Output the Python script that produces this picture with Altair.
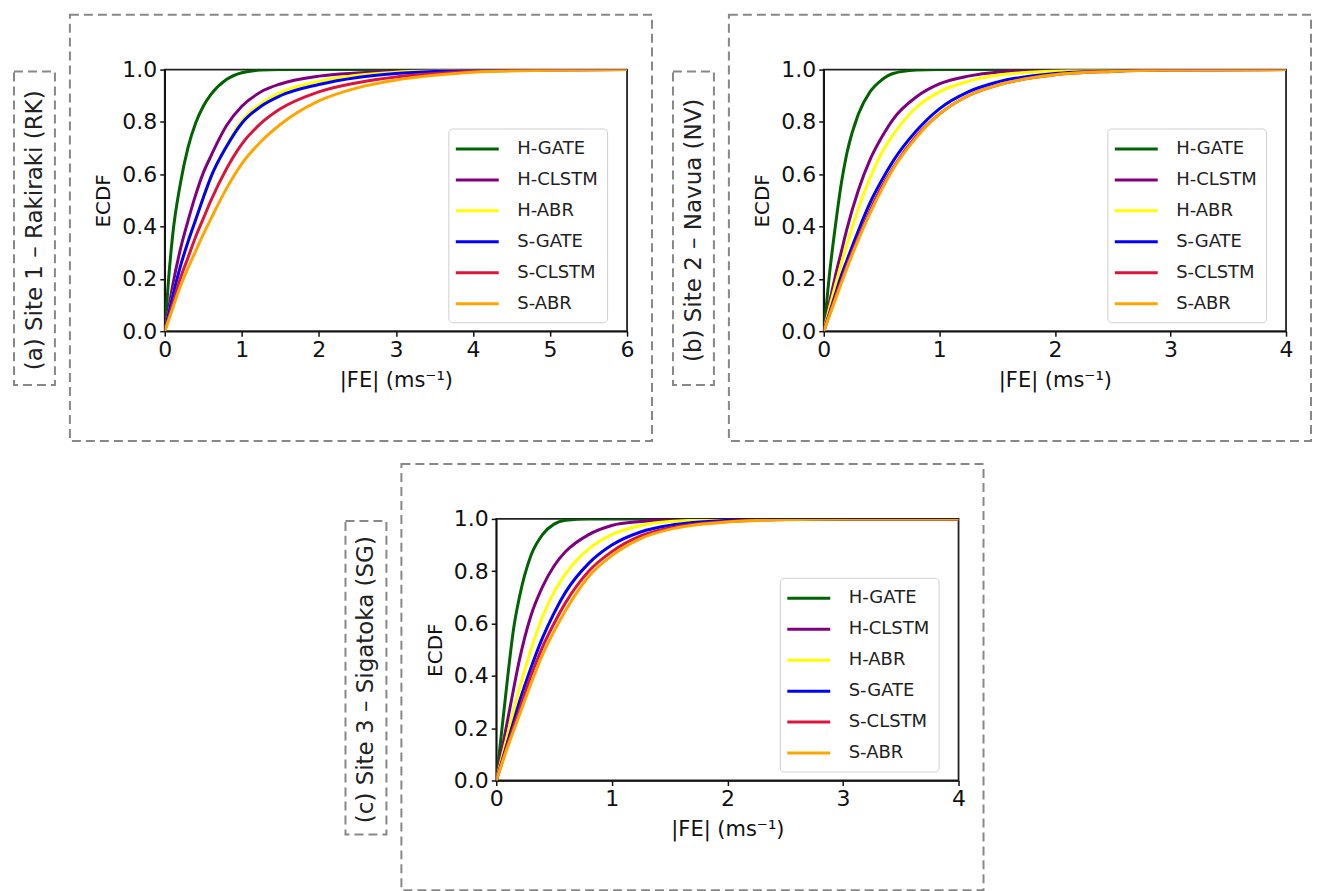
import altair as alt
import pandas as pd

FONT = "DejaVu Sans"

models = ["H-GATE", "H-CLSTM", "H-ABR", "S-GATE", "S-CLSTM", "S-ABR"]
colors = ["#006400", "#800080", "#ffff00", "#0000ff", "#dc143c", "#ffa500"]

# ---- Site 1 (Rakiraki) ----
site1_x = [0, 0.05, 0.1, 0.2, 0.3, 0.4, 0.5, 0.6, 0.8, 1.0, 1.25, 1.5, 2.0, 2.5, 3.0, 3.5, 4.0, 5.0, 6.0]
site1_h_gate = [0, 0.2, 0.36, 0.56, 0.7, 0.795, 0.86, 0.905, 0.962, 0.988, 0.998, 1, 1, 1, 1, 1, 1, 1, 1]
site1_h_clstm = [0, 0.085, 0.17, 0.31, 0.42, 0.52, 0.605, 0.67, 0.785, 0.86, 0.915, 0.945, 0.975, 0.987, 0.994, 0.997, 0.999, 1, 1]
site1_h_abr = [0, 0.065, 0.13, 0.245, 0.34, 0.425, 0.51, 0.59, 0.71, 0.805, 0.87, 0.912, 0.955, 0.978, 0.99, 0.995, 0.998, 1, 1]
site1_s_gate = [0, 0.065, 0.13, 0.245, 0.34, 0.425, 0.51, 0.59, 0.705, 0.795, 0.86, 0.9, 0.943, 0.97, 0.985, 0.993, 0.997, 0.999, 1]
site1_s_clstm = [0, 0.05, 0.1, 0.2, 0.28, 0.36, 0.43, 0.5, 0.62, 0.715, 0.795, 0.85, 0.915, 0.95, 0.972, 0.985, 0.993, 0.998, 1]
site1_s_abr = [0, 0.042, 0.085, 0.17, 0.24, 0.305, 0.37, 0.43, 0.545, 0.64, 0.725, 0.79, 0.88, 0.93, 0.96, 0.978, 0.99, 0.997, 1]

# ---- Site 2 (Navua) ----
site2_x = [0, 0.05, 0.1, 0.15, 0.2, 0.3, 0.4, 0.5, 0.6, 0.8, 1.0, 1.25, 1.5, 2.0, 2.5, 3.0, 4.0]
site2_h_gate = [0, 0.22, 0.4, 0.56, 0.68, 0.83, 0.915, 0.96, 0.985, 0.998, 1, 1, 1, 1, 1, 1, 1]
site2_h_clstm = [0, 0.11, 0.21, 0.3, 0.39, 0.54, 0.655, 0.74, 0.81, 0.895, 0.945, 0.975, 0.99, 0.998, 1, 1, 1]
site2_h_abr = [0, 0.09, 0.175, 0.255, 0.33, 0.47, 0.585, 0.68, 0.75, 0.855, 0.915, 0.955, 0.978, 0.995, 0.999, 1, 1]
site2_s_gate = [0, 0.07, 0.14, 0.21, 0.27, 0.385, 0.49, 0.575, 0.65, 0.765, 0.85, 0.915, 0.952, 0.985, 0.995, 0.999, 1]
site2_s_clstm = [0, 0.065, 0.13, 0.19, 0.25, 0.36, 0.46, 0.55, 0.625, 0.745, 0.83, 0.9, 0.94, 0.98, 0.993, 0.998, 1]
site2_s_abr = [0, 0.06, 0.12, 0.18, 0.24, 0.35, 0.45, 0.54, 0.62, 0.74, 0.83, 0.9, 0.94, 0.98, 0.993, 0.998, 1]

# ---- Site 3 (Sigatoka) ----
site3_x = [0, 0.05, 0.1, 0.15, 0.2, 0.3, 0.4, 0.5, 0.6, 0.8, 1.0, 1.25, 1.5, 2.0, 2.5, 3.0, 4.0]
site3_h_gate = [0, 0.2, 0.4, 0.58, 0.7, 0.86, 0.94, 0.98, 0.995, 1, 1, 1, 1, 1, 1, 1, 1]
site3_h_clstm = [0, 0.12, 0.235, 0.35, 0.46, 0.63, 0.74, 0.82, 0.875, 0.94, 0.975, 0.99, 0.997, 1, 1, 1, 1]
site3_h_abr = [0, 0.09, 0.18, 0.265, 0.35, 0.5, 0.625, 0.72, 0.79, 0.885, 0.94, 0.975, 0.99, 0.998, 1, 1, 1]
site3_s_gate = [0, 0.075, 0.15, 0.225, 0.3, 0.43, 0.545, 0.64, 0.72, 0.83, 0.9, 0.95, 0.975, 0.994, 0.999, 1, 1]
site3_s_clstm = [0, 0.07, 0.14, 0.205, 0.27, 0.4, 0.51, 0.6, 0.68, 0.8, 0.875, 0.935, 0.965, 0.99, 0.998, 1, 1]
site3_s_abr = [0, 0.065, 0.13, 0.19, 0.25, 0.37, 0.48, 0.57, 0.65, 0.78, 0.86, 0.925, 0.96, 0.988, 0.997, 1, 1]

x_ticks_site1 = [0, 1, 2, 3, 4, 5, 6]
x_ticks_site23 = [0, 1, 2, 3, 4]
y_ticks = [0.0, 0.2, 0.4, 0.6, 0.8, 1.0]

side_labels = ["(a) Site 1 \u2013 Rakiraki (RK)", "(b) Site 2 \u2013 Navua (NV)", "(c) Site 3 \u2013 Sigatoka (SG)"]
x_title = "|FE| (ms\u207b\u00b9)"

W, H = 463, 262


def build_df(xs, series):
    rows = []
    for name, ys in zip(models, series):
        for xv, yv in zip(xs, ys):
            rows.append({"model": name, "fe": xv, "ecdf": yv})
    return pd.DataFrame(rows)


def panel(xs, series, xticks, label):
    df = build_df(xs, series)
    one = pd.DataFrame({"label": [label]})
    lines = alt.Chart(df).mark_line(strokeWidth=3, interpolate="monotone", clip=True).encode(
        x=alt.X("fe:Q",
                scale=alt.Scale(domain=[xticks[0], xticks[-1]], nice=False),
                axis=alt.Axis(values=xticks, format="d", title=x_title, labelFlush=False)),
        y=alt.Y("ecdf:Q",
                scale=alt.Scale(domain=[0, 1], nice=False),
                axis=alt.Axis(values=y_ticks, format=".1f", title="ECDF", labelFlush=False)),
        color=alt.Color("model:N",
                        scale=alt.Scale(domain=models, range=colors),
                        legend=alt.Legend(title=None, orient="none", legendX=284, legendY=59,
                                          symbolType="M-1.3,0H3.0", symbolSize=400,
                                          symbolStrokeWidth=3, labelFontSize=18,
                                          labelFont=FONT, labelColor="#222",
                                          labelOffset=37, padding=9, rowPadding=10,
                                          strokeColor="#d0d0d0", fillColor="#ffffff",
                                          cornerRadius=4)),
    )
    outer = alt.Chart(one).mark_rect(filled=False, color="#888888", strokeWidth=2,
                                     strokeDash=[9, 5]).encode(
        x=alt.value(-95), x2=alt.value(W + 25), y=alt.value(-55), y2=alt.value(H + 110))
    sidebox = alt.Chart(one).mark_rect(filled=False, color="#888888", strokeWidth=2,
                                       strokeDash=[9, 5]).encode(
        x=alt.value(-151), x2=alt.value(-110), y=alt.value(2), y2=alt.value(316))
    sidetext = alt.Chart(one).mark_text(angle=270, font=FONT, fontSize=23, color="#222",
                                        align="center", baseline="middle").encode(
        x=alt.value(-130), y=alt.value(161), text="label:N")
    return alt.layer(outer, sidebox, sidetext, lines).properties(
        width=W, height=H,
        view=alt.ViewBackground(stroke="#222222", strokeWidth=1.8, strokeOpacity=1))


pa = panel(site1_x, [site1_h_gate, site1_h_clstm, site1_h_abr, site1_s_gate, site1_s_clstm, site1_s_abr],
           x_ticks_site1, side_labels[0])
pb = panel(site2_x, [site2_h_gate, site2_h_clstm, site2_h_abr, site2_s_gate, site2_s_clstm, site2_s_abr],
           x_ticks_site23, side_labels[1])
pc = panel(site3_x, [site3_h_gate, site3_h_clstm, site3_h_abr, site3_s_gate, site3_s_clstm, site3_s_abr],
           x_ticks_site23, side_labels[2])

spacer = alt.Chart(pd.DataFrame({"v": [0]})).mark_point(opacity=0).encode(
    x=alt.value(0), y=alt.value(0)).properties(
    width=12, height=H, view=alt.ViewBackground(strokeOpacity=0))

row1 = alt.hconcat(pa, pb, spacing=197, bounds="flush").resolve_scale(color="independent")
row2 = alt.hconcat(spacer, pc, spacing=320, bounds="flush").resolve_scale(color="independent")

chart = alt.vconcat(row1, row2, spacing=450, bounds="flush").resolve_scale(
    color="independent"
).properties(
    padding={"left": 4, "top": 4, "right": 0, "bottom": 0}
).configure(
    font=FONT
).configure_view(
    strokeOpacity=0
).configure_axis(
    labelFont=FONT, labelFontSize=22, labelColor="#111111",
    titleFont=FONT, titleFontSize=21, titleFontWeight="normal", titleColor="#111111",
    tickColor="#111111", tickSize=5, tickWidth=1.5,
    domainColor="#111111", domainWidth=1.5, grid=False, labelPadding=3
).configure_axisX(
    titlePadding=9
).configure_axisY(
    titlePadding=8, titleFontSize=20
)

chart.save("out.html", embed_options={"renderer": "svg", "actions": False})
